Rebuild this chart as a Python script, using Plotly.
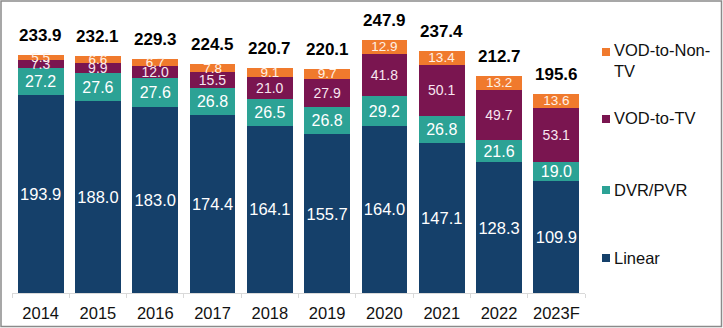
import plotly.graph_objects as go

# Viewing hours by delivery mode, stacked per year
years = ["2014", "2015", "2016", "2017", "2018", "2019", "2020", "2021", "2022", "2023F"]
linear = [193.9, 188.0, 183.0, 174.4, 164.1, 155.7, 164.0, 147.1, 128.3, 109.9]
dvr_pvr = [27.2, 27.6, 27.6, 26.8, 26.5, 26.8, 29.2, 26.8, 21.6, 19.0]
vod_tv = [7.3, 9.9, 12.0, 15.5, 21.0, 27.9, 41.8, 50.1, 49.7, 53.1]
vod_non_tv = [5.5, 6.6, 6.7, 7.8, 9.1, 9.7, 12.9, 13.4, 13.2, 13.6]
totals = [233.9, 232.1, 229.3, 224.5, 220.7, 220.1, 247.9, 237.4, 212.7, 195.6]

series_names = ["Linear", "DVR/PVR", "VOD-to-TV", "VOD-to-Non-TV"]
legend_labels = ["Linear", "DVR/PVR", "VOD-to-TV", "VOD-to-Non-<br>TV"]
series_values = [linear, dvr_pvr, vod_tv, vod_non_tv]
colors = ["#15406a", "#2ca295", "#7a1550", "#f07a2d"]
label_sizes = [16.5, 16, 14, 13.5]
label_colors = ["#ffffff", "#ffffff", "#f8e6f1", "#fff1e6"]

FONT = "Liberation Sans, Arial, sans-serif"
W, H = 723, 328
L, R, T, B = 12, 138, 10, 35
PW, PH = W - L - R, H - T - B
PX_PER_UNIT = 1.019


def px_x(px):
    return (px - L) / PW


def px_y(py):
    return (H - B - py) / PH


fig = go.Figure()
for name, vals, col, fs, tc in zip(series_names, series_values, colors, label_sizes, label_colors):
    fig.add_trace(go.Bar(
        x=years, y=vals, name=name,
        marker=dict(color=col, line=dict(width=0)),
        text=[f"{v:.1f}" for v in vals],
        textposition="inside", insidetextanchor="middle",
        textangle=0, constraintext="none",
        textfont=dict(family=FONT, size=fs, color=tc),
        hoverinfo="skip", showlegend=False,
    ))

# Totals above each stack (x given as category index, since the
# year strings look numeric and would be read as serial positions)
for i, tot in enumerate(totals):
    fig.add_annotation(
        x=i, y=tot, xref="x", yref="y", text=f"<b>{tot:.1f}</b>",
        showarrow=False, yanchor="middle", yshift=19.5,
        font=dict(family=FONT, size=17, color="#000000"),
    )

# Legend drawn to the right of the plot, top item first
legend_rows = [(legend_labels[3], colors[3], 61, 52),
               (legend_labels[2], colors[2], 118.5, 119),
               (legend_labels[1], colors[1], 189.7, 190),
               (legend_labels[0], colors[0], 258, 258)]
for label, col, ty, sy in legend_rows:
    fig.add_shape(type="rect", xref="paper", yref="paper",
                  x0=px_x(602), x1=px_x(610), y0=px_y(sy + 4), y1=px_y(sy - 4),
                  fillcolor=col, line=dict(width=0))
    fig.add_annotation(
        x=px_x(612), y=px_y(ty), xref="paper", yref="paper", text=label,
        showarrow=False, xanchor="left", yanchor="middle", align="left",
        font=dict(family=FONT, size=16.5, color="#111111"),
    )

# Outer frame
fig.add_shape(type="rect", xref="paper", yref="paper",
              x0=px_x(1), x1=px_x(721.5), y0=px_y(326.5), y1=px_y(1),
              line=dict(color="#8a8a8a", width=1.5), fillcolor="rgba(0,0,0,0)")

fig.update_layout(
    width=W, height=H,
    margin=dict(l=L, r=R, t=T, b=B, pad=0, autoexpand=False),
    barmode="stack", bargap=0.2,
    plot_bgcolor="white", paper_bgcolor="white",
    font=dict(family=FONT),
    xaxis=dict(
        type="category", range=[-0.5, len(years) - 0.5],
        automargin=False,
        showline=True, linecolor="#d9d9d9", linewidth=1,
        ticks="outside", tickson="boundaries", ticklen=4, tickcolor="#d9d9d9",
        ticklabelstandoff=5,
        tickfont=dict(family=FONT, size=16.5, color="#111111"),
        showgrid=False, fixedrange=True,
    ),
    yaxis=dict(visible=False, range=[0, PH / PX_PER_UNIT], showgrid=False, fixedrange=True),
)

fig.write_html("out.html")
